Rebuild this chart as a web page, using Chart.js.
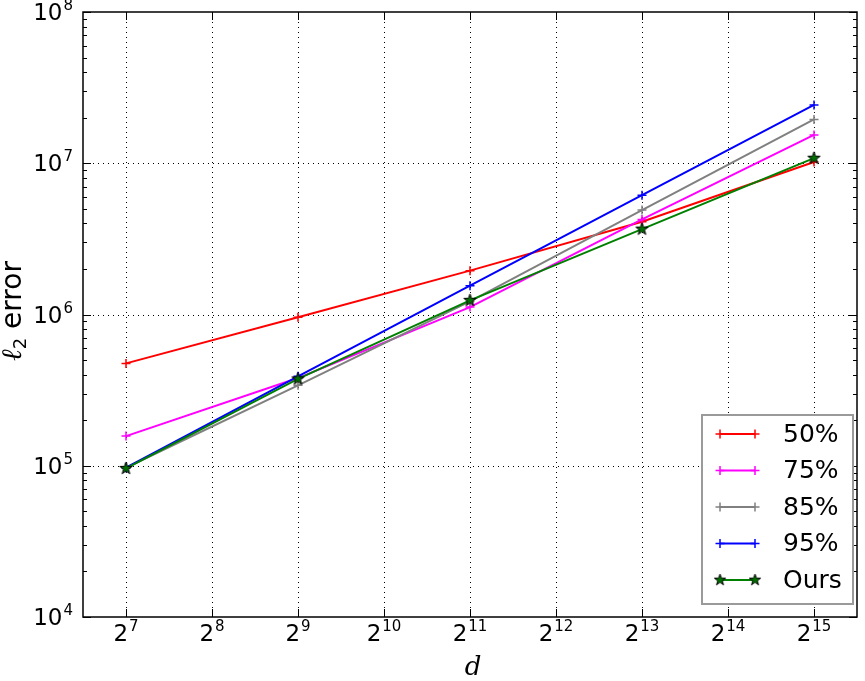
<!DOCTYPE html>
<html>
<head>
<meta charset="utf-8">
<script src="https://cdn.jsdelivr.net/npm/chart.js@4.4.0/dist/chart.umd.min.js"></script>
<style>
  html, body { margin: 0; padding: 0; background: #fff; }
</style>
</head>
<body>
<canvas id="c" width="865" height="681"></canvas>
<script>
// data
const dims = [128, 512, 2048, 8192, 32768];
const err50 = [4.75e5, 9.6e5, 1.95e6, 4.1e6, 1.02e7];
const err75 = [1.57e5, 3.8e5, 1.12e6, 4.25e6, 1.54e7];
const err85 = [9.7e4, 3.4e5, 1.22e6, 4.9e6, 1.95e7];
const err95 = [9.7e4, 3.9e5, 1.55e6, 6.15e6, 2.43e7];
const errOurs = [9.6e4, 3.75e5, 1.24e6, 3.67e6, 1.08e7];
const seriesNames = ['50%', '75%', '85%', '95%', 'Ours'];
const xTickExps = [7, 8, 9, 10, 11, 12, 13, 14, 15];
const yTickExps = [4, 5, 6, 7, 8];

const FONT = "'DejaVu Sans', sans-serif";

// filled star marker (matplotlib '*')
function makeStar(size, fill) {
  const cv = document.createElement('canvas');
  cv.width = size; cv.height = size;
  const g = cv.getContext('2d');
  const c = size / 2, R = size / 2 - 1, r = R * 0.4;
  g.beginPath();
  for (let i = 0; i < 10; i++) {
    const rad = (i % 2 === 0 ? R : r);
    const a = -Math.PI / 2 + i * Math.PI / 5;
    const px = c + rad * Math.cos(a), py = c + rad * Math.sin(a);
    i === 0 ? g.moveTo(px, py) : g.lineTo(px, py);
  }
  g.closePath();
  g.fillStyle = fill; g.fill();
  g.strokeStyle = '#000'; g.lineWidth = 1; g.stroke();
  return cv;
}
const star = makeStar(15, '#006e00');

const pts = arr => arr.map((v, i) => ({ x: dims[i], y: v }));

function lineSet(label, data, color, order, style) {
  return {
    label, data: pts(data), borderColor: color, backgroundColor: color,
    borderWidth: 2, pointStyle: style || 'cross', pointRadius: 4.5,
    pointBorderWidth: 1.5, pointBorderColor: color, tension: 0, order
  };
}

const datasets = [
  lineSet(seriesNames[0], err50, '#ff0000', 4),
  lineSet(seriesNames[1], err75, '#ff00ff', 3),
  lineSet(seriesNames[2], err85, '#808080', 2),
  lineSet(seriesNames[3], err95, '#0000ff', 1),
  lineSet(seriesNames[4], errOurs, '#008000', 0, star)
];

// superscript label helper: base + exponent
function supLabel(ctx, base, exp, x, y, align) {
  ctx.font = '23px ' + FONT;
  const wb = ctx.measureText(base).width;
  ctx.font = '15px ' + FONT;
  const we = ctx.measureText(exp).width;
  const total = wb + 1 + we;
  let x0 = align === 'right' ? x - total : x - total / 2;
  ctx.textAlign = 'left';
  ctx.textBaseline = 'alphabetic';
  ctx.font = '23px ' + FONT;
  ctx.fillText(base, x0, y);
  ctx.font = '15px ' + FONT;
  ctx.fillText(exp, x0 + wb + 1, y - 10);
}

const axesPlugin = {
  id: 'axesPlugin',
  beforeDatasetsDraw(chart) {
    const { ctx, chartArea: a, scales: { x, y } } = chart;
    ctx.save();
    ctx.strokeStyle = '#000';
    ctx.lineWidth = 1;
    ctx.setLineDash([1, 4]);
    xTickExps.forEach(e => {
      const px = Math.round(x.getPixelForValue(2 ** e)) + 0.5;
      ctx.beginPath(); ctx.moveTo(px, a.top); ctx.lineTo(px, a.bottom); ctx.stroke();
    });
    yTickExps.slice(1, -1).forEach(e => {
      const py = Math.round(y.getPixelForValue(10 ** e)) + 0.5;
      ctx.beginPath(); ctx.moveTo(a.left, py); ctx.lineTo(a.right, py); ctx.stroke();
    });
    ctx.restore();
  },
  afterDatasetsDraw(chart) {
    const { ctx, chartArea: a, scales: { x, y } } = chart;
    ctx.save();
    ctx.strokeStyle = '#000';
    ctx.lineWidth = 1;
    // x ticks, top and bottom
    xTickExps.forEach(e => {
      const px = Math.round(x.getPixelForValue(2 ** e)) + 0.5;
      ctx.beginPath();
      ctx.moveTo(px, a.bottom); ctx.lineTo(px, a.bottom - 8);
      ctx.moveTo(px, a.top); ctx.lineTo(px, a.top + 8);
      ctx.stroke();
    });
    // y ticks, major and minor, left and right
    yTickExps.forEach((e, k) => {
      for (let m = 1; m <= 9; m++) {
        if (m > 1 && k === yTickExps.length - 1) break;
        const py = Math.round(y.getPixelForValue(m * 10 ** e)) + 0.5;
        const len = m === 1 ? 8 : 4;
        ctx.beginPath();
        ctx.moveTo(a.left, py); ctx.lineTo(a.left + len, py);
        ctx.moveTo(a.right, py); ctx.lineTo(a.right - len, py);
        ctx.stroke();
      }
    });
    // spines
    ctx.lineWidth = 1.5;
    ctx.strokeRect(a.left, a.top, a.right - a.left, a.bottom - a.top);

    // tick labels
    ctx.fillStyle = '#000';
    xTickExps.forEach(e => {
      supLabel(ctx, '2', String(e), x.getPixelForValue(2 ** e), a.bottom + 24, 'center');
    });
    yTickExps.forEach(e => {
      supLabel(ctx, '10', String(e), a.left - 10, y.getPixelForValue(10 ** e) + 8, 'right');
    });

    // axis titles
    ctx.font = "italic 26px 'DejaVu Serif', serif";
    ctx.textAlign = 'center';
    ctx.textBaseline = 'alphabetic';
    ctx.fillText('d', (a.left + a.right) / 2 + 3, 675);

    ctx.save();
    ctx.translate(21, 311);
    ctx.rotate(-Math.PI / 2);
    ctx.font = "italic 28px 'DejaVu Serif', serif";
    const wl = ctx.measureText('ℓ').width;
    ctx.font = "18px " + FONT;
    const ws = ctx.measureText('2').width;
    ctx.font = "28px " + FONT;
    const wr = ctx.measureText(' error').width;
    let tx = -(wl + ws + wr) / 2;
    ctx.textAlign = 'left';
    ctx.font = "italic 28px 'DejaVu Serif', serif";
    ctx.fillText('ℓ', tx, 0);
    ctx.font = "18px " + FONT;
    ctx.fillText('2', tx + wl, 5);
    ctx.font = "28px " + FONT;
    ctx.fillText(' error', tx + wl + ws, 0);
    ctx.restore();

    // legend box
    const lx = 702, ly = 415, lw = 151, lh = 189;
    ctx.fillStyle = '#fff';
    ctx.fillRect(lx, ly, lw, lh);
    ctx.strokeStyle = '#9a9a9a';
    ctx.lineWidth = 2;
    ctx.strokeRect(lx, ly, lw, lh);
    chart.data.datasets.forEach((ds, i) => {
      const ry = 434 + i * 36.5;
      const x1 = 720, x2 = 755;
      ctx.strokeStyle = ds.borderColor;
      ctx.lineWidth = 2;
      ctx.beginPath(); ctx.moveTo(x1, ry); ctx.lineTo(x2, ry); ctx.stroke();
      [x1, x2].forEach(px => {
        if (ds.pointStyle === 'cross') {
          ctx.lineWidth = 1.5;
          ctx.beginPath();
          ctx.moveTo(px - 4.5, ry); ctx.lineTo(px + 4.5, ry);
          ctx.moveTo(px, ry - 4.5); ctx.lineTo(px, ry + 4.5);
          ctx.stroke();
        } else {
          ctx.drawImage(ds.pointStyle, px - 7, ry - 7, 14, 14);
        }
      });
      ctx.fillStyle = '#000';
      ctx.font = '25px ' + FONT;
      ctx.textAlign = 'left';
      ctx.textBaseline = 'middle';
      ctx.fillText(ds.label, 783, ry + 1);
    });
    ctx.restore();
  }
};

new Chart(document.getElementById('c'), {
  type: 'line',
  data: { datasets },
  options: {
    responsive: false,
    animation: false,
    layout: { padding: { left: 83, top: 12, right: 8, bottom: 64 } },
    plugins: { legend: { display: false }, tooltip: { enabled: false } },
    scales: {
      x: { type: 'logarithmic', display: false, min: 2 ** 6.5, max: 2 ** 15.5 },
      y: { type: 'logarithmic', display: false, min: 1e4, max: 1e8 }
    }
  },
  plugins: [axesPlugin]
});
</script>
</body>
</html>
